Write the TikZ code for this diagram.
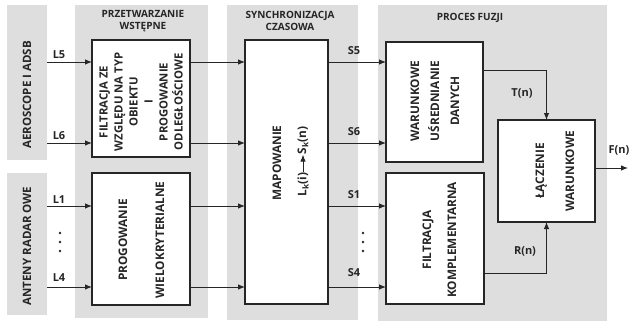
\documentclass[tikz,border=0pt]{standalone}
\usepackage{fontspec}
\setmainfont{Open Sans}
\usetikzlibrary{arrows.meta}
\definecolor{panelgrey}{HTML}{DEDEDE}
\definecolor{ink}{HTML}{262626}
\begin{document}
\begin{tikzpicture}[x=1pt,y=-1pt,
  panel/.style={fill=panelgrey, draw=none, inner sep=0pt, outer sep=0pt},
  blk/.style={draw=ink, line width=1.4pt, fill=white, inner sep=0pt, outer sep=0pt},
  boxtxt/.style={font=\bfseries\fontsize{11.8}{#1}\selectfont, rotate=90, align=center, inner sep=0pt, text=ink},
  boxtxt/.default=14,
  sidetxt/.style={font=\bfseries\fontsize{11.5}{13}\selectfont, rotate=90, inner sep=0pt, text=ink},
  lbl/.style={font=\bfseries\fontsize{11}{13}\selectfont, inner sep=0pt, text=ink},
  ttl/.style={font=\bfseries\fontsize{10}{12}\selectfont, align=center, inner sep=0pt, text=ink},
  arr/.style={draw=ink, line width=0.9pt, -{Latex[length=7pt,width=5.5pt]}},
  dotm/.style={circle, fill=ink, inner sep=0pt, minimum size=2.6pt}]
\useasboundingbox[fill=white] (0,0) rectangle (633,324);

% panels
\node[panel, minimum width=40pt, minimum height=155pt] (pA) at (27,82.5) {};
\node[panel, minimum width=40pt, minimum height=142pt] (pB) at (27,244) {};
\node[panel, minimum width=133pt, minimum height=313pt] (pP) at (141.5,161.5) {};
\node[panel, minimum width=131pt, minimum height=315pt] (pS) at (292.5,162.5) {};
\node[panel, minimum width=229pt, minimum height=316pt] (pF) at (492.5,163) {};

% side labels and titles
\node[sidetxt] (tA) at (27,95) {AEROSCOPE I ADSB};
\node[sidetxt] (tB) at (27,246) {ANTENY RADAR OWE};
\node[ttl] (tP) at (143,21) {PRZETWARZANIE\\WSTĘPNE};
\node[ttl] (tS) at (290,21) {SYNCHRONIZACJA\\CZASOWA};
\node[ttl] (tF) at (470,18) {PROCES FUZJI};

% blocks
\node[blk, minimum width=98pt, minimum height=117pt] (f1) at (141,98.5) {};
\node[blk, minimum width=98pt, minimum height=132pt] (p2) at (141,239) {};
\node[blk, minimum width=83pt, minimum height=264pt] (map) at (286.5,172) {};
\node[blk, minimum width=97pt, minimum height=120pt] (war) at (434.5,102) {};
\node[blk, minimum width=98pt, minimum height=131pt] (fk) at (435,238.5) {};
\node[blk, minimum width=97pt, minimum height=102pt] (lac) at (546.5,171) {};

% block texts
\node[boxtxt=15, font=\bfseries\fontsize{11.3}{15}\selectfont] (f1t) at (141,102) {FILTRACJA ZE\\WZGLĘDU NA TYP\\OBIEKTU\\I\\PROGOWANIE\\ODLEGŁOŚCIOWE};
\node[boxtxt=37] (p2t) at (141.5,240) {PROGOWANIE\\WIELOKRYTERIALNE};
\node[boxtxt] (m1) at (277,163) {MAPOWANIE};
\node[boxtxt] (m2) at (303,184.5) {L\textsubscript{k}(i)};
\node[boxtxt] (m3) at (303,140.5) {S\textsubscript{k}(n)};
\draw[arr] (m2) -- (m3);
\node[boxtxt=20] (wart) at (435,101) {WARUNKOWE\\UŚREDNIANIE\\DANYCH};
\node[boxtxt=25] (fkt) at (439.5,240) {FILTRACJA\\KOMPLEMENTARNA};
\node[boxtxt=30] (lact) at (555,171) {ŁĄCZENIE\\WARUNKOWE};

% levels
\coordinate (yA) at (0,62);
\coordinate (yB) at (0,143);
\coordinate (yC) at (0,206);
\coordinate (yD) at (0,287);
\coordinate (yT) at (0,70);
\coordinate (yR) at (0,273);
\coordinate (yF) at (0,168);
\coordinate (Fend) at (628,168);

% inputs
\draw[arr] (pA.east |- yA) -- (f1.west |- yA);
\draw[arr] (pA.east |- yB) -- (f1.west |- yB);
\draw[arr] (pB.east |- yC) -- (p2.west |- yC);
\draw[arr] (pB.east |- yD) -- (p2.west |- yD);
\node[lbl] (L5) at (59,55) {L5};
\node[lbl] (L6) at (59,136) {L6};
\node[lbl] (L1) at (59,200) {L1};
\node[lbl] (L4) at (59,278) {L4};
\node[dotm] (d1) at (60,233) {};
\node[dotm] (d2) at (60,242) {};
\node[dotm] (d3) at (60,251) {};

% preprocessing -> mapping
\draw[arr] (f1.east |- yA) -- (map.west |- yA);
\draw[arr] (f1.east |- yB) -- (map.west |- yB);
\draw[arr] (p2.east |- yC) -- (map.west |- yC);
\draw[arr] (p2.east |- yD) -- (map.west |- yD);

% mapping -> fusion
\draw[arr] (map.east |- yA) -- (war.west |- yA);
\draw[arr] (map.east |- yB) -- (war.west |- yB);
\draw[arr] (map.east |- yC) -- (fk.west |- yC);
\draw[arr] (map.east |- yD) -- (fk.west |- yD);
\node[lbl] (S5) at (354,51) {S5};
\node[lbl] (S6) at (354,132) {S6};
\node[lbl] (S1) at (354,195) {S1};
\node[lbl] (S4) at (354,273) {S4};
\node[dotm] (e1) at (363,233) {};
\node[dotm] (e2) at (363,242) {};
\node[dotm] (e3) at (363,251) {};

% fusion internals
\draw[arr] (war.east |- yT) -| (lac.north);
\draw[arr] (fk.east |- yR) -| (lac.south);
\draw[arr] (lac.east |- yF) -- (Fend);
\node[lbl] (Tn) at (522,93) {T(n)};
\node[lbl] (Rn) at (525,251) {R(n)};
\node[lbl] (Fn) at (619,150) {F(n)};
\end{tikzpicture}
\end{document}
